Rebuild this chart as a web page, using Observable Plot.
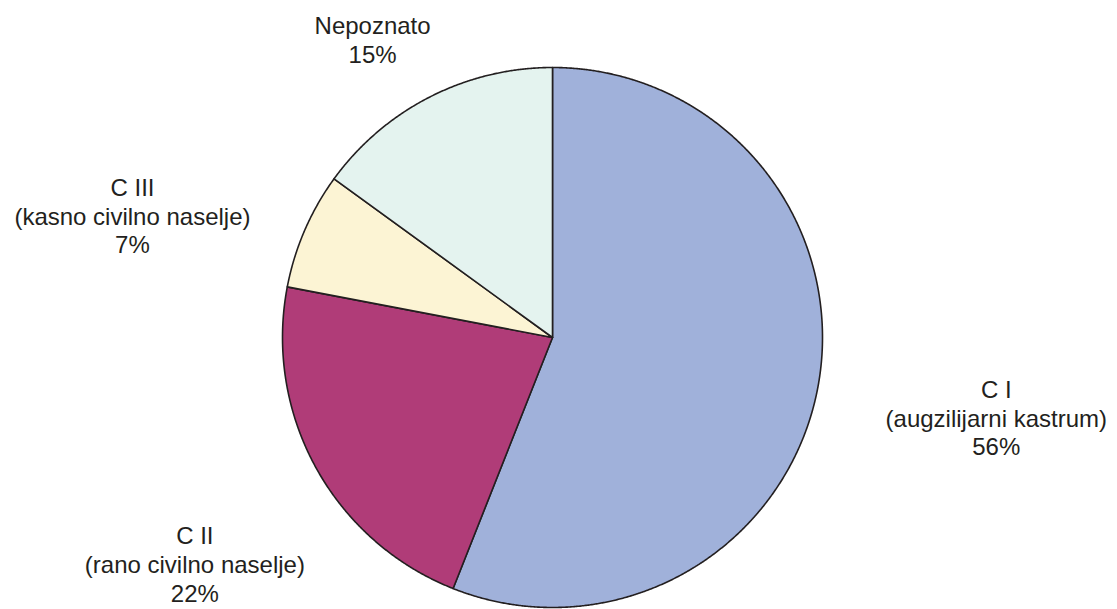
<!DOCTYPE html>
<html>
<head>
<meta charset="utf-8">
<script src="https://cdn.jsdelivr.net/npm/d3@7"></script>
<script src="https://cdn.jsdelivr.net/npm/@observablehq/plot@0.6"></script>
<style>
  html, body { margin: 0; padding: 0; background: #ffffff; }
  #chart { width: 1117px; height: 609px; }
</style>
</head>
<body>
<div id="chart"></div>
<script>
// ---- Data (clockwise from 12 o'clock) ----
const categories = ["C I", "C II", "C III", "Nepoznato"];
const descriptions = ["(augzilijarni kastrum)", "(rano civilno naselje)", "(kasno civilno naselje)", ""];
const shares = [56, 22, 7, 15];
const sliceColors = ["#a0b1da", "#b03c78", "#fcf4d4", "#e4f3ef"];

// ---- Layout ----
const W = 1117, H = 609;
const cx = 552, cy = 337, R = 270;            // pie centre & radius in pixels
// label placement: angle shift (deg) from slice middle, and radius factor
const labelShift = [-0.6, -3.5, -7.2, -4.1];
const labelRadius = [1.67, 1.567, 1.62, 1.29];

const pie = d3.pie().sort(null).value(d => d)(shares);

// slice outlines (in unit-radius coordinates, y up)
const slicePts = [];
pie.forEach((p, i) => {
  slicePts.push({k: categories[i], x: 0, y: 0});
  const n = Math.max(2, Math.ceil((p.endAngle - p.startAngle) / (Math.PI / 720)));
  for (let j = 0; j <= n; j++) {
    const a = p.startAngle + (p.endAngle - p.startAngle) * j / n;
    slicePts.push({k: categories[i], x: Math.sin(a), y: Math.cos(a)});
  }
});

const labels = pie.map((p, i) => {
  const a = (p.startAngle + p.endAngle) / 2 + labelShift[i] * Math.PI / 180;
  const lines = [categories[i]];
  if (descriptions[i]) lines.push(descriptions[i]);
  lines.push(shares[i] + "%");
  return {x: Math.sin(a) * labelRadius[i], y: Math.cos(a) * labelRadius[i], t: lines.join("\n")};
});

const chart = Plot.plot({
  width: W,
  height: H,
  margin: 0,
  style: {background: "#ffffff", fontFamily: "'Liberation Sans', Arial, Helvetica, sans-serif"},
  x: {domain: [-cx / R, (W - cx) / R], axis: null},
  y: {domain: [-(H - cy) / R, cy / R], axis: null},
  color: {domain: categories, range: sliceColors},
  marks: [
    Plot.line(slicePts, {
      x: "x", y: "y", z: "k",
      fill: "k",
      stroke: "#231f20",
      strokeWidth: 1.6,
      strokeLinejoin: "round",
      curve: "linear-closed"
    }),
    Plot.text(labels, {
      x: "x", y: "y", text: "t",
      fontSize: 24,
      lineHeight: 1.2,
      fill: "#231f20",
      textAnchor: "middle",
      lineAnchor: "middle"
    })
  ]
});

document.getElementById("chart").appendChild(chart);
</script>
</body>
</html>
